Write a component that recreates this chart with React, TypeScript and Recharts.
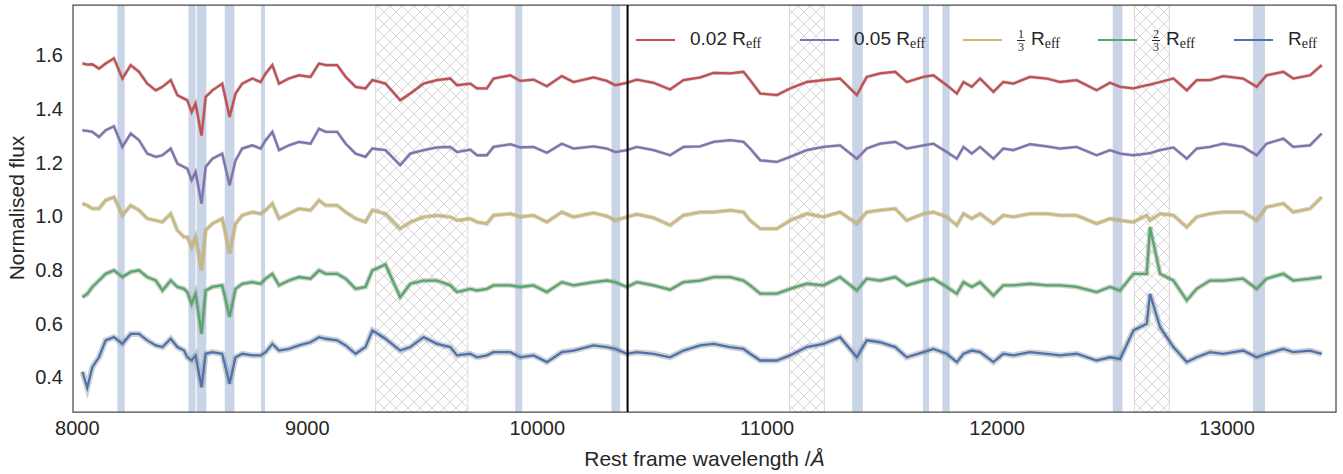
import {
  ComposedChart,
  Line,
  XAxis,
  YAxis,
  ReferenceArea,
  ReferenceLine,
  Label,
} from "recharts";

// rest frame wavelength grid (Å)
const wavelength = [
  8022, 8043, 8065, 8094, 8123, 8159, 8196, 8232, 8268, 8304,
  8341, 8370, 8406, 8435, 8464, 8478, 8497, 8514, 8540, 8558,
  8587, 8630, 8662, 8688, 8717, 8761, 8797, 8819, 8848, 8877,
  8920, 8964, 9014, 9051, 9080, 9130, 9167, 9210, 9253, 9283,
  9340, 9404, 9448, 9506, 9564, 9622, 9651, 9709, 9738, 9781,
  9810, 9883, 9926, 9984, 10042, 10107, 10158, 10245, 10303, 10339,
  10390, 10433, 10506, 10578, 10636, 10709, 10767, 10839, 10897, 10926,
  10970, 11042, 11100, 11172, 11245, 11317, 11390, 11433, 11491, 11557,
  11607, 11680, 11723, 11781, 11825, 11854, 11890, 11926, 11984, 12027,
  12071, 12143, 12216, 12274, 12346, 12433, 12491, 12535, 12593, 12651,
  12665, 12709, 12767, 12825, 12868, 12926, 12984, 13070, 13129, 13172,
  13245, 13288, 13361, 13412,
];

const flux002 = [
  1.569, 1.565, 1.566, 1.55, 1.569, 1.588, 1.513, 1.563, 1.538, 1.494,
  1.469, 1.482, 1.507, 1.451, 1.438, 1.432, 1.388, 1.42, 1.3, 1.444,
  1.469, 1.494, 1.37, 1.457, 1.494, 1.513, 1.5, 1.532, 1.563, 1.494,
  1.513, 1.525, 1.519, 1.569, 1.563, 1.563, 1.519, 1.482, 1.476, 1.507,
  1.494, 1.432, 1.457, 1.494, 1.507, 1.513, 1.488, 1.494, 1.476, 1.476,
  1.513, 1.525, 1.504, 1.509, 1.484, 1.522, 1.5, 1.517, 1.504, 1.488,
  1.497, 1.509, 1.497, 1.472, 1.507, 1.517, 1.534, 1.532, 1.538, 1.507,
  1.457, 1.451, 1.476, 1.5, 1.507, 1.513, 1.451, 1.519, 1.532, 1.538,
  1.5, 1.519, 1.525, 1.488, 1.457, 1.5, 1.482, 1.513, 1.463, 1.5,
  1.494, 1.519, 1.513, 1.5, 1.507, 1.469, 1.497, 1.482, 1.476, 1.488,
  1.49, 1.5, 1.513, 1.469, 1.507, 1.507, 1.522, 1.513, 1.482, 1.525,
  1.538, 1.513, 1.525, 1.563,
];

const flux005 = [
  1.32, 1.318, 1.314, 1.295, 1.32, 1.335, 1.258, 1.308, 1.283, 1.233,
  1.221, 1.227, 1.252, 1.196, 1.183, 1.177, 1.134, 1.165, 1.047, 1.183,
  1.214, 1.233, 1.115, 1.208, 1.252, 1.264, 1.252, 1.283, 1.314, 1.246,
  1.264, 1.277, 1.27, 1.326, 1.314, 1.314, 1.27, 1.233, 1.221, 1.252,
  1.246, 1.19, 1.233, 1.246, 1.256, 1.258, 1.239, 1.248, 1.227, 1.227,
  1.258, 1.268, 1.256, 1.258, 1.236, 1.27, 1.252, 1.26, 1.252, 1.239,
  1.246, 1.258, 1.246, 1.227, 1.258, 1.26, 1.277, 1.283, 1.277, 1.252,
  1.208, 1.202, 1.221, 1.246, 1.258, 1.264, 1.214, 1.252, 1.27, 1.277,
  1.252, 1.264, 1.27, 1.239, 1.214, 1.258, 1.233, 1.258, 1.214, 1.252,
  1.246, 1.268, 1.26, 1.252, 1.258, 1.227, 1.246, 1.233, 1.227, 1.233,
  1.235, 1.246, 1.256, 1.214, 1.252, 1.258, 1.27, 1.258, 1.227, 1.27,
  1.289, 1.258, 1.264, 1.308,
];

const fluxThird = [
  1.047, 1.04, 1.028, 1.028, 1.059, 1.071, 1.003, 1.04, 1.022, 0.991,
  0.984, 0.978, 1.009, 0.947, 0.922, 0.922, 0.885, 0.922, 0.798, 0.947,
  0.972, 0.991, 0.86, 0.972, 1.003, 1.015, 1.009, 1.022, 1.047, 0.991,
  1.009, 1.028, 1.022, 1.059, 1.04, 1.04, 1.015, 0.991, 0.978, 1.022,
  1.009, 0.953, 0.978, 0.997, 1.003, 0.997, 0.984, 0.991, 0.978, 0.972,
  1.003, 1.009, 0.997, 1.003, 0.978, 1.015, 0.997, 1.012, 1.0, 0.984,
  0.997, 1.007, 0.994, 0.966, 1.003, 1.015, 1.015, 1.022, 1.015, 0.984,
  0.953, 0.953, 0.984, 1.009, 0.997, 1.015, 0.972, 1.015, 1.022, 1.028,
  0.984, 1.009, 1.015, 0.997, 0.966, 1.009, 0.991, 1.009, 0.972, 1.003,
  0.997, 1.009, 1.009, 1.003, 1.003, 0.972, 0.991, 0.984, 0.978, 1.003,
  0.984, 1.009, 1.003, 0.959, 0.997, 1.009, 1.015, 1.015, 0.984, 1.034,
  1.047, 1.015, 1.028, 1.071,
];

const fluxTwoThirds = [
  0.698, 0.71, 0.736, 0.76, 0.785, 0.798, 0.773, 0.792, 0.798, 0.773,
  0.76, 0.723, 0.76, 0.736, 0.729, 0.717, 0.673, 0.711, 0.561, 0.723,
  0.736, 0.742, 0.624, 0.729, 0.748, 0.754, 0.748, 0.767, 0.785, 0.742,
  0.76, 0.773, 0.767, 0.798, 0.785, 0.785, 0.767, 0.729, 0.736, 0.798,
  0.82, 0.698, 0.748, 0.76, 0.76, 0.742, 0.717, 0.729, 0.723, 0.729,
  0.742, 0.742, 0.736, 0.742, 0.717, 0.754, 0.742, 0.754, 0.76, 0.754,
  0.736, 0.754, 0.742, 0.726, 0.754, 0.76, 0.773, 0.773, 0.76, 0.742,
  0.711, 0.711, 0.729, 0.748, 0.742, 0.773, 0.723, 0.767, 0.76, 0.773,
  0.742, 0.76, 0.767, 0.736, 0.711, 0.754, 0.736, 0.754, 0.704, 0.742,
  0.742, 0.748, 0.742, 0.742, 0.736, 0.717, 0.736, 0.723, 0.785, 0.785,
  0.959, 0.785, 0.76, 0.686, 0.729, 0.76, 0.76, 0.767, 0.729, 0.767,
  0.785, 0.76, 0.767, 0.773,
];

const fluxReff = [
  0.42, 0.36, 0.437, 0.474, 0.537, 0.549, 0.524, 0.561, 0.561, 0.537,
  0.518, 0.512, 0.543, 0.512, 0.499, 0.474, 0.462, 0.481, 0.362, 0.487,
  0.493, 0.487, 0.375, 0.474, 0.487, 0.481, 0.481, 0.493, 0.524, 0.499,
  0.505, 0.518, 0.53, 0.549, 0.543, 0.537, 0.518, 0.487, 0.512, 0.574,
  0.543, 0.499, 0.512, 0.549, 0.524, 0.512, 0.481, 0.487, 0.474, 0.481,
  0.493, 0.493, 0.474, 0.481, 0.456, 0.493, 0.499, 0.518, 0.512, 0.505,
  0.487, 0.493, 0.487, 0.474, 0.499, 0.518, 0.524, 0.512, 0.505, 0.487,
  0.462, 0.462, 0.481, 0.512, 0.524, 0.549, 0.474, 0.537, 0.53, 0.512,
  0.474, 0.493, 0.505, 0.487, 0.456, 0.487, 0.499, 0.493, 0.456, 0.487,
  0.481, 0.493, 0.487, 0.481, 0.487, 0.462, 0.474, 0.468, 0.574, 0.599,
  0.71, 0.586, 0.512, 0.456, 0.474, 0.493, 0.487, 0.499, 0.474, 0.487,
  0.505, 0.493, 0.499, 0.487,
];

// masked absorption features (blue bands) and telluric regions (hatched)
const bandStart = [8174, 8483, 8519, 8641, 8799, 9904, 10323, 11370, 11678, 11762, 12503, 13113];
const bandEnd = [8206, 8514, 8561, 8683, 8816, 9935, 10361, 11416, 11704, 11794, 12545, 13165];
const hatchStart = [9297, 11097, 12597];
const hatchEnd = [9698, 11249, 12749];
const splitWavelength = 10393;

const xTicks = [8000, 9000, 10000, 11000, 12000, 13000];
const yTicks = [0.4, 0.6, 0.8, 1.0, 1.2, 1.4, 1.6];
const X_MIN = 7981;
const X_MAX = 13474;
const Y_MIN = 0.27;
const Y_MAX = 1.787;

const data = wavelength.map((w, i) => ({
  w,
  r002: flux002[i],
  r005: flux005[i],
  rThird: fluxThird[i],
  rTwoThirds: fluxTwoThirds[i],
  rEff: fluxReff[i],
}));

// halo = width of the grey uncertainty band drawn behind each spectrum
const series = [
  { key: "r002", color: "#c44e52", halo: 3.6 },
  { key: "r005", color: "#8172b2", halo: 3.4 },
  { key: "rThird", color: "#ccb974", halo: 4.2 },
  { key: "rTwoThirds", color: "#55a868", halo: 5 },
  { key: "rEff", color: "#4c72b0", halo: 6 },
];

const FONT = "'Liberation Sans', Arial, sans-serif";
const SERIF = "'Liberation Serif', 'DejaVu Serif', serif";

function Frac({ n, d }: { n: string; d: string }) {
  return (
    <span
      style={{
        display: "inline-flex",
        flexDirection: "column",
        alignItems: "center",
        fontFamily: SERIF,
        fontSize: 12,
        lineHeight: "12px",
        marginRight: 6,
      }}
    >
      <span>{n}</span>
      <span style={{ borderTop: "1px solid #262626", padding: "0 1px" }}>{d}</span>
    </span>
  );
}

const Reff = () => (
  <span>
    R<sub style={{ fontFamily: SERIF, fontSize: 14, verticalAlign: "-3px" }}>eff</sub>
  </span>
);

const legendItems = [
  { left: 636, color: "#c44e52", label: <span>0.02 <Reff /></span> },
  { left: 800, color: "#8172b2", label: <span>0.05 <Reff /></span> },
  { left: 963, color: "#ccb974", label: <span style={{ display: "inline-flex", alignItems: "center" }}><Frac n="1" d="3" /><Reff /></span> },
  { left: 1098, color: "#55a868", label: <span style={{ display: "inline-flex", alignItems: "center" }}><Frac n="2" d="3" /><Reff /></span> },
  { left: 1234, color: "#4c72b0", label: <Reff /> },
];

export default function App() {
  return (
    <div style={{ position: "absolute", left: 0, top: 0, width: 1343, height: 474, background: "#fff", fontFamily: FONT }}>
      <ComposedChart
        width={1343}
        height={474}
        data={data}
        margin={{ top: 5, right: 7, left: 0, bottom: 0 }}
      >
        <defs>
          <pattern id="hatch" patternUnits="userSpaceOnUse" width="12" height="12">
            <path d="M0,0 L12,12 M12,0 L0,12" stroke="#c6c6c6" strokeWidth="0.7" />
          </pattern>
        </defs>
        <XAxis
          dataKey="w"
          type="number"
          domain={[X_MIN, X_MAX]}
          ticks={xTicks}
          allowDataOverflow
          height={62}
          tickLine={false}
          axisLine={false}
          tickSize={0}
          tickMargin={9}
          tick={{ fontSize: 20, fill: "#262626", fontFamily: FONT }}
        >
          <Label
            content={({ viewBox }: any) => (
              <text
                x={viewBox.x + viewBox.width / 2}
                y={466}
                textAnchor="middle"
                fontSize={21}
                fill="#262626"
                fontFamily={FONT}
              >
                Rest frame wavelength /<tspan fontStyle="italic">Å</tspan>
              </text>
            )}
          />
        </XAxis>
        <YAxis
          type="number"
          domain={[Y_MIN, Y_MAX]}
          ticks={yTicks}
          allowDataOverflow
          width={73}
          tickLine={false}
          axisLine={false}
          tickSize={0}
          tickMargin={10}
          tickFormatter={(v: number) => v.toFixed(1)}
          tick={{ fontSize: 20, fill: "#262626", fontFamily: FONT }}
        >
          <Label
            content={() => (
              <text
                x={0}
                y={0}
                transform="translate(24,208) rotate(-90)"
                textAnchor="middle"
                fontSize={21}
                fill="#262626"
                fontFamily={FONT}
              >
                Normalised flux
              </text>
            )}
          />
        </YAxis>
        {hatchStart.map((s, i) => (
          <ReferenceArea
            key={"h" + i}
            x1={s}
            x2={hatchEnd[i]}
            fill="url(#hatch)"
            fillOpacity={1}
            stroke="#d8d8d8"
            strokeWidth={1}
          />
        ))}
        {bandStart.map((s, i) => (
          <ReferenceArea
            key={"b" + i}
            x1={s}
            x2={bandEnd[i]}
            fill="#c9d5e7"
            fillOpacity={1}
            stroke="none"
          />
        ))}
        {series.map((s) => (
          <Line
            key={s.key + "-err"}
            dataKey={s.key}
            type="linear"
            stroke="#9a9a9a"
            strokeOpacity={0.45}
            strokeWidth={s.halo}
            dot={false}
            activeDot={false}
            isAnimationActive={false}
          />
        ))}
        {series.map((s) => (
          <Line
            key={s.key}
            dataKey={s.key}
            type="linear"
            stroke={s.color}
            strokeWidth={2.3}
            dot={false}
            isAnimationActive={false}
          />
        ))}
        <ReferenceLine x={splitWavelength} stroke="#000" strokeWidth={2} />
        <ReferenceArea
          x1={X_MIN}
          x2={X_MAX}
          y1={Y_MIN}
          y2={Y_MAX}
          fill="none"
          stroke="#4a4a4a"
          strokeWidth={1.25}
          ifOverflow="visible"
        />
      </ComposedChart>
      {legendItems.map((item, i) => (
        <div
          key={i}
          style={{
            position: "absolute",
            left: item.left,
            top: 27,
            height: 26,
            display: "flex",
            alignItems: "center",
            fontSize: 19,
            color: "#262626",
            whiteSpace: "nowrap",
          }}
        >
          <span style={{ display: "inline-block", width: 39, height: 2.2, background: item.color, marginRight: 15 }} />
          {item.label}
        </div>
      ))}
    </div>
  );
}
